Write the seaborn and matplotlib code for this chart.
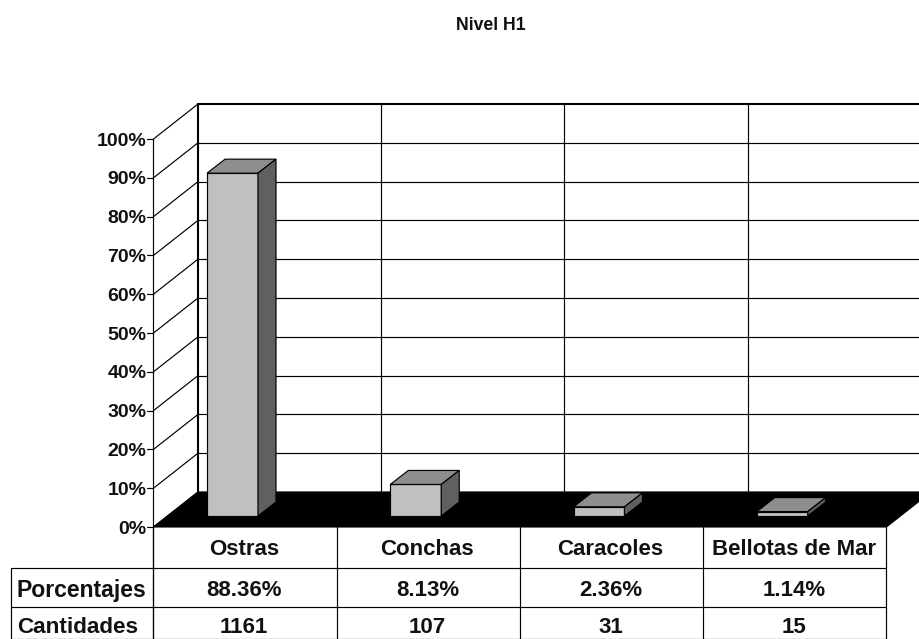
import numpy as np
import pandas as pd
import matplotlib
matplotlib.use("Agg")
import matplotlib.pyplot as plt
from matplotlib.patches import Polygon
import seaborn as sns

categories = ["Ostras", "Conchas", "Caracoles", "Bellotas de Mar"]
porcentajes = [88.36, 8.13, 2.36, 1.14]
cantidades = [1161, 107, 31, 15]
y_ticks = [0, 10, 20, 30, 40, 50, 60, 70, 80, 90, 100]

sns.set_theme(style="white")
plt.rcParams["font.family"] = ["Liberation Sans", "DejaVu Sans"]
plt.rcParams["font.weight"] = "bold"

W, H = 920, 639
fig = plt.figure(figsize=(W / 100, H / 100), dpi=100, facecolor="white")

# full figure axes in pixels, for the box of the 3d chart and the table
frame = fig.add_axes([0, 0, 1, 1])
frame.set_xlim(0, W)
frame.set_ylim(H, 0)
frame.axis("off")

# front plane of the box
x0, x1 = 153.5, 886.5
y0, px_per_pct = 527, 3.88
cell = (x1 - x0) / len(categories)
# depth of the box
dx, dy = 44.5, -35
thin = 0.85
thick = 1.5
text_color = "#111111"


def front_y(v):
    return y0 - v * px_per_pct


# left wall and back wall grid
for v in y_ticks:
    y = front_y(v)
    lw = thick if v == 100 else thin
    frame.plot([x0, x0 + dx], [y, y + dy], color="black", lw=thin)
    frame.plot([x0 + dx, W], [y + dy, y + dy], color="black", lw=lw)
    frame.plot([x0 - 6, x0], [y, y], color="black", lw=thin)
    frame.text(146.5, y + 2, f"{v}%", ha="right", va="center", fontsize=14, color=text_color)

frame.plot([x0 + dx, x0 + dx], [front_y(0) + dy, front_y(100) + dy], color="black", lw=thick)
for i in range(1, len(categories)):
    frame.plot([x0 + dx + i * cell] * 2, [front_y(0) + dy, front_y(100) + dy], color="black", lw=thin)
frame.plot([x0, x0], [front_y(100), H], color="black", lw=thin)

# black floor
floor = Polygon([(x0, y0), (x1, y0), (x1 + dx, y0 + dy), (x0 + dx, y0 + dy)], closed=True,
                facecolor="black", edgecolor="black", lw=0.8)
frame.add_patch(floor)

# table
table_left = 11
row_lines = [568, 607, 638.5]
row_labels = ["Porcentajes", "Cantidades"]
for i in range(len(categories) + 1):
    frame.plot([x0 + i * cell] * 2, [y0, H], color="black", lw=thin)
frame.plot([table_left, table_left], [row_lines[0], H], color="black", lw=thin)
for y in row_lines:
    frame.plot([table_left, x1], [y, y], color="black", lw=thin)

rows = [[f"{p:.2f}%" for p in porcentajes], [str(c) for c in cantidades]]
for i, name in enumerate(categories):
    cx = x0 + (i + 0.5) * cell - 1
    frame.text(cx, 549.5, name, ha="center", va="center", fontsize=16, color=text_color)
    frame.text(cx, 591, rows[0][i], ha="center", va="center", fontsize=16, color=text_color)
    frame.text(cx, 627.5, rows[1][i], ha="center", va="center", fontsize=16, color=text_color)
for label, y, size in zip(row_labels, [591, 627.5], [16.6, 16.2]):
    frame.text(17, y, label, ha="left", va="center", fontsize=size, color=text_color)

frame.text(491, 25, "Nivel H1", ha="center", va="center", fontsize=12.7, color=text_color)

# bars, on their own plane inside the box
bar_left = 140.9
bar_right = bar_left + cell * len(categories)
bar_base = 516
ax = fig.add_axes([bar_left / W, 1 - bar_base / H, (bar_right - bar_left) / W, 100 * px_per_pct / H])
ax.patch.set_alpha(0)
df = pd.DataFrame({"categoria": categories, "porcentaje": porcentajes})
sns.barplot(data=df, x="categoria", y="porcentaje", color="#C0C0C0", saturation=1, width=0.278,
            edgecolor="black", linewidth=thin, ax=ax, zorder=3)
ax.set_xlim(-0.5, len(categories) - 0.5)
ax.set_ylim(0, 100)
ax.axis("off")

# sides and tops of the bars
bar_dx = 18 / cell
bar_dy = 14 / px_per_pct
for b in ax.patches:
    l, r, h = b.get_x(), b.get_x() + b.get_width(), b.get_height()
    top = Polygon([(l, h), (r, h), (r + bar_dx, h + bar_dy), (l + bar_dx, h + bar_dy)], closed=True,
                  facecolor="#8E8E8E", edgecolor="black", lw=thin, clip_on=False, zorder=4)
    side = Polygon([(r, 0), (r + bar_dx, bar_dy), (r + bar_dx, h + bar_dy), (r, h)], closed=True,
                   facecolor="#606060", edgecolor="black", lw=thin, clip_on=False, zorder=4)
    ax.add_patch(top)
    ax.add_patch(side)

fig.savefig("out.png", dpi=100)
